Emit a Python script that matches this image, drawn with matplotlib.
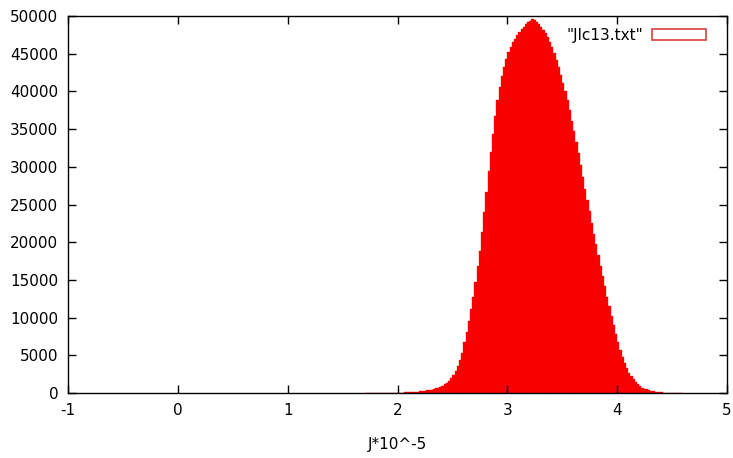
import matplotlib.pyplot as plt
import numpy as np
from matplotlib.patches import Patch

# histogram bins (left edges, width 0.02) and counts
bin_width = 0.02
bin_start = 1.70
counts = [
    5, 5, 6, 7, 8, 10, 11, 13, 15, 18,
    21, 25, 29, 34, 40, 47, 55, 65, 76, 90,
    105, 122, 142, 165, 192, 222, 256, 295, 340, 390,
    450, 520, 600, 700, 820, 960, 1130, 1340, 1600, 1950,
    2400, 2950, 3600, 4400, 5300, 6800, 8100, 9500, 11100, 12800,
    14700, 16800, 18900, 21400, 24000, 26700, 29400, 32000, 34400, 36700,
    38800, 40600, 42100, 43300, 44300, 45200, 45900, 46500, 47000, 47500,
    47900, 48300, 48600, 48900, 49200, 49400, 49600, 49500, 49200, 48900,
    48600, 48200, 47700, 47200, 46600, 45900, 45100, 44200, 43200, 42200,
    41100, 40000, 38800, 37500, 36100, 34800, 33300, 31800, 30200, 28700,
    27100, 25600, 24100, 22600, 21100, 19700, 18300, 16900, 15500, 14200,
    12800, 11500, 10200, 9000, 7800, 6700, 5700, 4800, 4000, 3300,
    2700, 2200, 1800, 1450, 1150, 920, 730, 590, 470, 370,
    290, 225, 175, 135, 105, 80, 60, 45, 34, 25,
    19, 14, 10, 7, 5,
]
edges = bin_start + bin_width * np.arange(len(counts))

x_ticks = [-1, 0, 1, 2, 3, 4, 5]
y_ticks = list(range(0, 50001, 5000))

plt.rcParams['font.family'] = 'DejaVu Sans'
plt.rcParams['axes.unicode_minus'] = False
fig = plt.figure(figsize=(7.33, 4.58), dpi=100)
ax = fig.add_axes([0.0928, 0.1419, 0.899, 0.8231])

ax.bar(edges, counts, width=bin_width, align='edge',
       color='#ff0000', edgecolor='#e40000', linewidth=0.25)

ax.set_xlim(-1, 5)
ax.set_ylim(0, 50000)
ax.set_xticks(x_ticks)
ax.set_yticks(y_ticks)
ax.tick_params(direction='in', length=6, width=1, top=True, right=True,
               labelsize=11, pad=7)
for s in ax.spines.values():
    s.set_linewidth(1)
ax.set_xlabel('J*10^-5', fontsize=11, labelpad=14)

handle = Patch(facecolor='white', edgecolor='#d94040', linewidth=1.2)
ax.legend([handle], ['"Jlc13.txt"'], loc='upper right', frameon=False,
          markerfirst=False, fontsize=11, handlelength=3.5, handleheight=0.65,
          handletextpad=0.6, borderaxespad=0, bbox_to_anchor=(0.977, 0.985))

fig.savefig('out.png', dpi=100)
